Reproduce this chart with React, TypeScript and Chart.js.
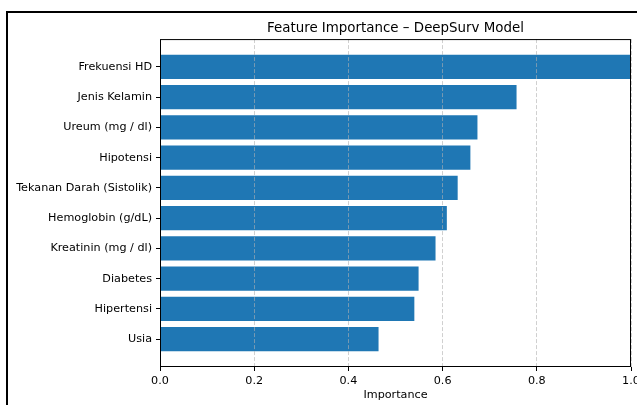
import React, { useEffect, useRef } from 'react';
import { Chart, registerables } from 'chart.js';

Chart.register(...registerables);

const FEATURES = [
  'Frekuensi HD',
  'Jenis Kelamin',
  'Ureum (mg / dl)',
  'Hipotensi',
  'Tekanan Darah (Sistolik)',
  'Hemoglobin (g/dL)',
  'Kreatinin (mg / dl)',
  'Diabetes',
  'Hipertensi',
  'Usia',
];
const IMPORTANCE = [1.0, 0.757, 0.674, 0.659, 0.632, 0.609, 0.585, 0.549, 0.54, 0.464];
const X_TICKS = [0, 0.2, 0.4, 0.6, 0.8, 1.0];
const TITLE = 'Feature Importance – DeepSurv Model';
const X_LABEL = 'Importance';

const FAMILY = "'DejaVu Sans', sans-serif";
const TICK_FONT = { family: FAMILY, size: 11.2 };

const spinePlugin = {
  id: 'spines',
  afterDraw(chart: any) {
    const { ctx, chartArea: a } = chart;
    ctx.save();
    ctx.strokeStyle = '#000';
    ctx.lineWidth = 1;
    ctx.setLineDash([]);
    ctx.strokeRect(a.left + 0.5, a.top + 0.5, a.right - a.left - 1, a.bottom - a.top - 1);
    ctx.restore();
  },
};

export default function App() {
  const ref = useRef<HTMLCanvasElement>(null);

  useEffect(() => {
    const chart = new Chart(ref.current as HTMLCanvasElement, {
      type: 'bar',
      data: {
        datasets: [
          {
            data: IMPORTANCE.map((v, i) => ({ x: v, y: i })) as any,
            backgroundColor: '#1f77b4',
            borderWidth: 0,
            barPercentage: 0.8,
            categoryPercentage: 1,
          },
        ],
      },
      options: {
        indexAxis: 'y',
        responsive: false,
        animation: false,
        devicePixelRatio: 1,
        layout: { padding: { left: 0, right: 6, top: 0, bottom: 0 } },
        plugins: {
          legend: { display: false },
          tooltip: { enabled: false },
          title: {
            display: true,
            text: TITLE,
            fullSize: false,
            color: '#000',
            font: { family: FAMILY, size: 13.4, weight: 'normal' as any },
            padding: { top: 20.5, bottom: 2.5 },
          },
        },
        scales: {
          x: {
            type: 'linear',
            min: 0,
            max: 1,
            afterBuildTicks: (s: any) => {
              s.ticks = X_TICKS.map((v) => ({ value: v }));
            },
            afterFit: (s: any) => {
              s.height = 38;
              s.paddingLeft = 0;
              s.paddingRight = 0;
            },
            ticks: {
              callback: (v: any) => Number(v).toFixed(1),
              font: TICK_FONT,
              color: '#000',
              padding: 3,
              maxRotation: 0,
              autoSkip: false,
            },
            grid: {
              color: 'rgba(176,176,176,0.6)',
              lineWidth: 1,
              drawTicks: true,
              tickLength: 4,
              tickColor: '#000',
              tickWidth: 1,
              tickBorderDash: [],
              z: 1,
            } as any,
            border: { display: false, dash: [4, 2] },
            title: {
              display: true,
              text: X_LABEL,
              color: '#000',
              font: TICK_FONT,
              padding: { top: 0, bottom: 3.3 },
            },
          },
          y: {
            type: 'linear',
            reverse: true,
            offset: false,
            min: -0.92,
            max: 9.92,
            afterBuildTicks: (s: any) => {
              s.ticks = FEATURES.map((_, i) => ({ value: i }));
            },
            afterFit: (s: any) => {
              s.width = 160;
              s.paddingTop = 0;
              s.paddingBottom = 0;
            },
            ticks: {
              callback: (v: any) => FEATURES[v] ?? '',
              font: TICK_FONT,
              color: '#000',
              padding: 4,
              autoSkip: false,
            },
            grid: {
              offset: false,
              drawOnChartArea: false,
              drawTicks: true,
              tickLength: 4,
              tickColor: '#000',
              tickWidth: 1,
            },
            border: { display: false },
          },
        },
      },
      plugins: [spinePlugin],
    } as any);
    return () => chart.destroy();
  }, []);

  return (
    <div
      style={{
        position: 'fixed',
        left: 0,
        top: 0,
        width: 637,
        height: 405,
        overflow: 'hidden',
        background: '#fff',
      }}
    >
      <div
        style={{
          position: 'absolute',
          left: 6,
          top: 11,
          width: 700,
          height: 500,
          borderLeft: '2px solid #000',
          borderTop: '2px solid #000',
        }}
      />
      <canvas
        ref={ref}
        width={637}
        height={405}
        style={{ position: 'absolute', left: 0, top: 0, width: 637, height: 405 }}
      />
    </div>
  );
}
